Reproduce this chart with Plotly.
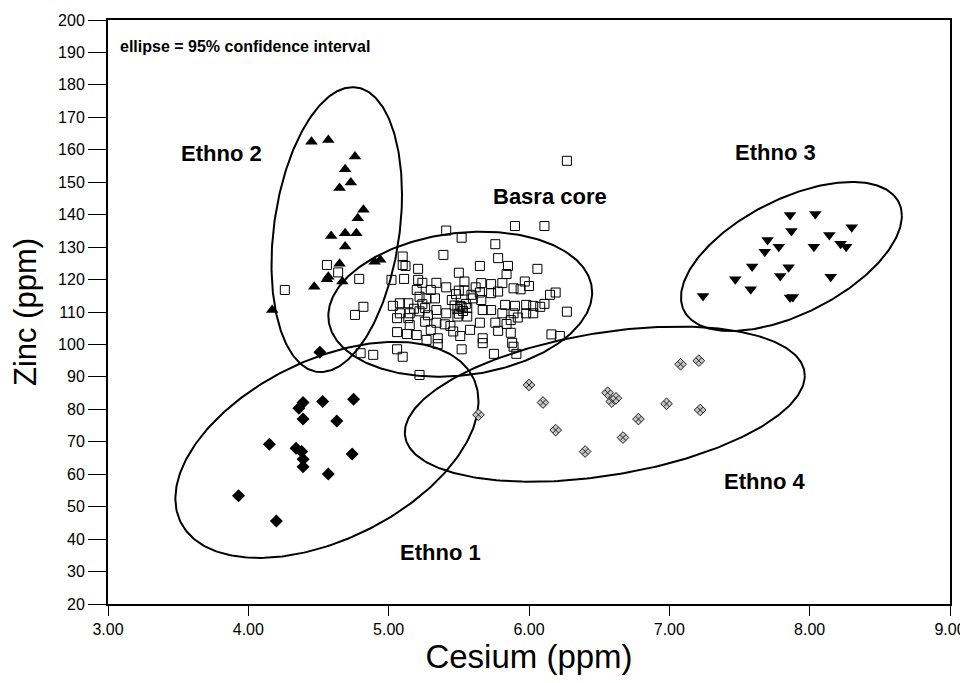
import numpy as np
import plotly.graph_objects as go

# ---------------- data ----------------
basra_x = [5.41, 5.90, 6.11, 5.52, 5.76, 5.39, 5.78, 5.85, 5.65, 6.06, 5.10, 5.10, 5.12, 4.56, 5.21,
           5.50, 5.84, 4.79, 5.02, 5.11, 5.21, 5.24, 5.34, 5.41, 5.54, 5.62, 5.66, 5.73, 5.81, 5.89,
           5.97, 6.00, 5.94, 5.20, 5.30, 5.50, 5.54, 5.59, 5.73, 5.78, 6.15, 6.19, 5.22, 5.27, 5.33,
           5.45, 5.66, 5.08, 5.14, 4.82, 5.03, 5.83, 5.90, 5.98, 6.03, 6.08, 6.11, 5.52, 5.56, 4.76,
           5.08, 5.15, 5.26, 5.34, 5.67, 5.73, 5.81, 5.89, 5.98, 6.03, 6.27, 5.06, 5.14, 5.41, 5.49,
           5.56, 5.26, 5.34, 5.65, 5.76, 5.84, 5.30, 5.44, 5.58, 5.78, 5.87, 5.06, 5.13, 5.20, 5.27,
           5.35, 5.51, 5.67, 5.67, 5.88, 5.89, 6.16, 6.22, 5.35, 5.52, 5.75, 5.91, 5.06, 5.10, 4.89,
           4.80, 5.22, 4.26, 4.64, 6.27, 5.51, 5.53, 5.49, 5.55, 5.47, 5.50, 5.22, 5.28, 5.18, 5.24,
           5.87, 5.92, 5.48, 5.60, 5.65, 5.40, 5.46, 5.15]
basra_y = [135.1, 136.5, 136.5, 132.9, 130.9, 127.6, 126.6, 124.2, 124.2, 123.3, 127.1, 124.5, 124.2, 124.5, 123.3,
           122.1, 121.7, 120.2, 119.9, 120.2, 119.9, 119.0, 119.0, 117.6, 119.4, 117.6, 118.9, 118.6, 118.9, 117.3,
           119.4, 118.0, 117.0, 116.8, 116.8, 116.6, 116.6, 115.3, 115.8, 116.3, 115.3, 116.0, 114.7, 114.2, 114.2,
           113.7, 113.7, 112.7, 112.7, 111.6, 111.9, 112.2, 111.9, 112.2, 111.9, 111.6, 112.5, 111.6, 111.2, 109.1,
           109.6, 109.6, 111.2, 110.6, 110.6, 110.6, 109.6, 109.6, 109.6, 109.6, 110.1, 108.1, 108.1, 109.6, 108.6,
           108.6, 107.0, 106.7, 106.7, 106.7, 106.3, 104.5, 105.7, 104.5, 104.2, 103.6, 103.8, 103.2, 102.9, 101.4,
           101.9, 102.6, 101.9, 100.4, 100.5, 99.3, 103.1, 102.6, 100.1, 98.5, 97.1, 97.1, 98.5, 96.2, 96.8,
           97.3, 90.6, 116.8, 122.2, 156.6, 111.9, 110.3, 110.9, 112.5, 112.0, 109.5, 110.2, 109.0, 111.0, 112.4,
           107.5, 108.3, 115.5, 114.2, 116.0, 106.2, 104.0, 106.0]

ethno1_x = [4.39, 4.36, 4.53, 4.75, 4.39, 4.63, 4.15, 4.34, 4.38, 4.39, 4.39, 4.74, 4.57, 3.93, 4.20, 4.51]
ethno1_y = [82.1, 80.3, 82.4, 83.1, 77.0, 76.4, 69.2, 68.0, 67.0, 64.6, 62.3, 66.2, 60.1, 53.4, 45.6, 97.6]

ethno2_x = [4.45, 4.57, 4.76, 4.69, 4.73, 4.65, 4.82, 4.78, 4.59, 4.69, 4.77, 4.69, 4.65, 4.90, 4.94,
            4.56, 4.57, 4.67, 4.47, 4.17]
ethno2_y = [162.5, 163.0, 157.9, 154.0, 149.9, 148.2, 141.5, 138.9, 133.4, 134.3, 134.3, 130.2, 124.9, 125.5, 126.1,
            120.1, 120.9, 119.4, 117.8, 110.6]

ethno3_x = [7.86, 8.04, 8.30, 7.87, 8.14, 7.70, 7.78, 8.03, 8.22, 8.26, 7.68, 7.59, 7.85, 7.79, 8.15,
            7.47, 7.58, 7.86, 7.88, 7.24]
ethno3_y = [139.9, 140.2, 136.1, 135.0, 133.7, 132.2, 130.1, 130.1, 131.0, 130.1, 128.6, 124.0, 123.8, 121.1, 120.9,
            120.1, 117.0, 114.5, 114.6, 114.9]

ethno4_x = [7.08, 7.21, 6.00, 6.10, 6.56, 6.59, 6.62, 6.98, 7.22, 6.78, 5.64, 6.19, 6.67, 6.40]
ethno4_y = [93.9, 95.0, 87.5, 82.1, 85.1, 82.4, 83.4, 81.7, 79.8, 77.0, 78.3, 73.6, 71.3, 67.0]

# 95% confidence ellipses: centre x, centre y, half x-extent, half y-extent, covariance term
ell_names = ["Ethno 1", "Ethno 2", "Basra core", "Ethno 3", "Ethno 4"]
ell_cx = [4.56, 4.63, 5.51, 7.87, 6.54]
ell_cy = [67.5, 135.4, 112.4, 127.1, 81.6]
ell_sx = [1.08, 0.465, 0.94, 0.787, 1.425]
ell_sy = [33.3, 43.9, 22.35, 22.97, 23.9]
ell_c = [16.2, 5.0, 3.4, 9.9, 12.5]

x_ticks = [3, 4, 5, 6, 7, 8, 9]
x_tick_labels = ["3.00", "4.00", "5.00", "6.00", "7.00", "8.00", "9.00"]
y_ticks = list(range(20, 201, 10))

FONT = "Liberation Sans, Arial, sans-serif"

# ---------------- figure ----------------
fig = go.Figure()

t = np.linspace(0, 2 * np.pi, 300)
for name, cx, cy, sx, sy, c in zip(ell_names, ell_cx, ell_cy, ell_sx, ell_sy, ell_c):
    k = c / sx
    ex = cx + sx * np.cos(t)
    ey = cy + k * np.cos(t) + np.sqrt(sy ** 2 - k ** 2) * np.sin(t)
    fig.add_trace(go.Scatter(x=ex, y=ey, mode="lines", line=dict(color="black", width=2),
                             hoverinfo="skip", showlegend=False))

fig.add_trace(go.Scatter(x=basra_x, y=basra_y, mode="markers", name="Basra core",
                         marker=dict(symbol="square-open", size=9, color="black", line=dict(width=1))))
fig.add_trace(go.Scatter(x=ethno1_x, y=ethno1_y, mode="markers", name="Ethno 1",
                         marker=dict(symbol="diamond", size=10, color="black")))
fig.add_trace(go.Scatter(x=ethno2_x, y=ethno2_y, mode="markers", name="Ethno 2",
                         marker=dict(symbol="triangle-up", size=11, color="black")))
fig.add_trace(go.Scatter(x=ethno3_x, y=ethno3_y, mode="markers", name="Ethno 3",
                         marker=dict(symbol="triangle-down", size=11, color="black")))
fig.add_trace(go.Scatter(x=ethno4_x, y=ethno4_y, mode="markers", name="Ethno 4",
                         marker=dict(symbol="diamond-x", size=9, color="#c4c4c4",
                                     line=dict(color="#222222", width=1))))

lab_font = dict(family=FONT, size=22, color="black")
labels = [("Ethno 2", 3.81, 159.0), ("Basra core", 6.15, 145.5), ("Ethno 3", 7.76, 159.3),
          ("Ethno 4", 7.68, 57.9), ("Ethno 1", 5.37, 36.0)]
for txt, ax_, ay_ in labels:
    fig.add_annotation(x=ax_, y=ay_, text="<b>%s</b>" % txt, showarrow=False, font=lab_font,
                       xanchor="center", yanchor="middle")

fig.add_annotation(x=3.07, y=191.7, text="<b>ellipse = 95% confidence interval</b>", showarrow=False,
                   xanchor="left", yanchor="middle", font=dict(family=FONT, size=16, color="black"))

axis_common = dict(showline=True, linecolor="black", linewidth=2, mirror=True, showgrid=False,
                   zeroline=False, ticks="outside", tickcolor="black", tickwidth=1, automargin=False,
                   tickfont=dict(family=FONT, size=16, color="black"))

fig.update_xaxes(range=[3, 9], tickvals=x_ticks, ticktext=x_tick_labels, ticklen=10,
                 title=dict(text="Cesium (ppm)", standoff=10, font=dict(family=FONT, size=33, color="black")),
                 **axis_common)
fig.update_yaxes(range=[20, 200], tickvals=y_ticks, ticklen=18,
                 title=dict(text="Zinc (ppm)", standoff=12, font=dict(family=FONT, size=31, color="black")),
                 **axis_common)

# page body has an 8px default margin: size/margins chosen so the plot area lands at 108..950 x 20..604
fig.update_layout(width=960, height=667, margin=dict(l=100, r=18, t=12, b=71),
                  plot_bgcolor="white", paper_bgcolor="white", showlegend=False)

fig.write_html("out.html")
